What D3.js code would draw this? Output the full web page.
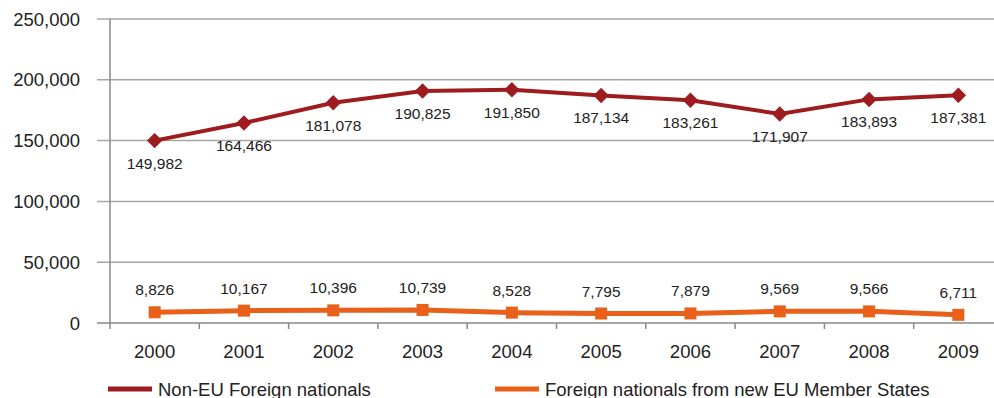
<!DOCTYPE html>
<html>
<head>
<meta charset="utf-8">
<script src="https://cdn.jsdelivr.net/npm/d3@7"></script>
<style>
  body { margin: 0; background: #fff; }
  text { font-family: "Liberation Sans", Arial, sans-serif; fill: #222; }
</style>
</head>
<body>
<svg id="chart" width="994" height="398"></svg>
<script>
var years = ["2000", "2001", "2002", "2003", "2004", "2005", "2006", "2007", "2008", "2009"];
var nonEU = [149982, 164466, 181078, 190825, 191850, 187134, 183261, 171907, 183893, 187381];
var newEU = [8826, 10167, 10396, 10739, 8528, 7795, 7879, 9569, 9566, 6711];
var yTicks = [0, 50000, 100000, 150000, 200000, 250000];
var seriesNames = ["Non-EU Foreign nationals", "Foreign nationals from new EU Member States"];
var colors = ["#9e1c1f", "#e8601a"];

var svg = d3.select("#chart");
var plotLeft = 110, plotTop = 19, plotBottom = 323, bandW = 89.3;

var x = d3.scaleBand()
    .domain(years)
    .range([plotLeft, plotLeft + bandW * years.length]);

var y = d3.scaleLinear()
    .domain([0, 250000])
    .range([plotBottom, plotTop]);

var fmt = d3.format(",");

//gridlines
svg.append("g")
    .selectAll("line")
    .data(yTicks)
    .enter().append("line")
    .attr("x1", plotLeft - 13)
    .attr("x2", 994)
    .attr("y1", function(d) { return y(d); })
    .attr("y2", function(d) { return y(d); })
    .style("stroke", function(d) { return d == 0 ? "#888" : "#a6a6a6"; })
    .style("stroke-width", "1.5px");

//y axis line
svg.append("line")
    .attr("x1", plotLeft).attr("x2", plotLeft)
    .attr("y1", plotTop).attr("y2", plotBottom + 6)
    .style("stroke", "#888")
    .style("stroke-width", "1.5px");

//x ticks at band edges
svg.append("g")
    .selectAll("line")
    .data(years.slice(1))
    .enter().append("line")
    .attr("x1", function(d) { return x(d); })
    .attr("x2", function(d) { return x(d); })
    .attr("y1", plotBottom)
    .attr("y2", plotBottom + 6)
    .style("stroke", "#888")
    .style("stroke-width", "1.5px");

//y tick labels
svg.append("g")
    .selectAll("text")
    .data(yTicks)
    .enter().append("text")
    .attr("x", 80)
    .attr("y", function(d) { return y(d) + 6.5; })
    .attr("text-anchor", "end")
    .style("font-size", "18.5px")
    .text(function(d) { return fmt(d); });

//x labels
svg.append("g")
    .selectAll("text")
    .data(years)
    .enter().append("text")
    .attr("x", function(d) { return x(d) + x.bandwidth() / 2; })
    .attr("y", 358)
    .attr("text-anchor", "middle")
    .style("font-size", "18.5px")
    .text(function(d) { return d; });

var cx = function(d, i) { return x(years[i]) + x.bandwidth() / 2; };

var line = d3.line()
    .x(function(d, i) { return cx(d, i); })
    .y(function(d) { return y(d); });

//Non-EU line with diamonds
svg.append("path")
    .datum(nonEU)
    .attr("d", line)
    .style("fill", "none")
    .style("stroke", colors[0])
    .style("stroke-width", "4px");

svg.append("g")
    .selectAll("path")
    .data(nonEU)
    .enter().append("path")
    .attr("d", d3.symbol().type(d3.symbolSquare).size(120))
    .attr("transform", function(d, i) { return "translate(" + cx(d, i) + "," + y(d) + ") rotate(45)"; })
    .style("fill", colors[0]);

svg.append("g")
    .selectAll("text")
    .data(nonEU)
    .enter().append("text")
    .attr("x", function(d, i) { return cx(d, i); })
    .attr("y", function(d) { return y(d) + 28; })
    .attr("text-anchor", "middle")
    .style("font-size", "15.5px")
    .text(function(d) { return fmt(d); });

//new EU line with squares
svg.append("path")
    .datum(newEU)
    .attr("d", line)
    .style("fill", "none")
    .style("stroke", colors[1])
    .style("stroke-width", "5px");

svg.append("g")
    .selectAll("rect")
    .data(newEU)
    .enter().append("rect")
    .attr("x", function(d, i) { return cx(d, i) - 6; })
    .attr("y", function(d) { return y(d) - 6; })
    .attr("width", 12)
    .attr("height", 12)
    .style("fill", colors[1]);

svg.append("g")
    .selectAll("text")
    .data(newEU)
    .enter().append("text")
    .attr("x", function(d, i) { return cx(d, i); })
    .attr("y", function(d) { return y(d) - 17; })
    .attr("text-anchor", "middle")
    .style("font-size", "15.5px")
    .text(function(d) { return fmt(d); });

//legend
var legendX = [108, 495];
var legend = svg.append("g")
    .selectAll("g")
    .data(seriesNames)
    .enter().append("g")
    .attr("transform", function(d, i) { return "translate(" + legendX[i] + ",389)"; });

legend.append("line")
    .attr("x1", 0).attr("x2", 44)
    .style("stroke", function(d, i) { return colors[i]; })
    .style("stroke-width", "5px");

legend.append("text")
    .attr("x", 50)
    .attr("y", 6.5)
    .style("font-size", "18.5px")
    .text(function(d) { return d; });
</script>
</body>
</html>
